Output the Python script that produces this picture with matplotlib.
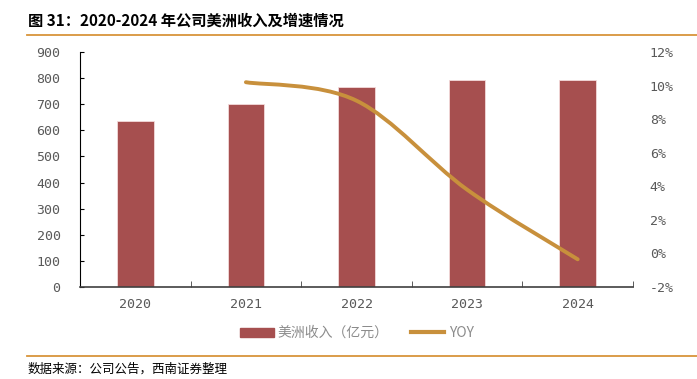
import matplotlib.pyplot as plt
import numpy as np
from matplotlib.path import Path
from matplotlib.patches import PathPatch
from matplotlib.lines import Line2D
from matplotlib.patches import Patch

plt.rcParams["font.family"] = ["Noto Sans CJK SC", "DejaVu Sans"]

years = ["2020", "2021", "2022", "2023", "2024"]
revenue = [636, 700, 765, 792, 792]          # 美洲收入（亿元）
yoy_years = ["2021", "2022", "2023", "2024"]
yoy = [10.2, 9.1, 3.8, -0.35]                # YOY (%)

BAR = "#A64F4F"
LINE = "#C8903C"
GRID_TXT = "#595959"

fig = plt.figure(figsize=(6.97, 3.79), dpi=100)
ax = fig.add_axes([80 / 697, 1 - 287 / 379, (633 - 80) / 697, (287 - 52) / 379])
ax2 = ax.twinx()

x = np.arange(len(years))
ax.bar(x, revenue, width=0.33, color=BAR, edgecolor="#F3DADA", linewidth=0.6, zorder=2)
ax.set_xlim(-0.5, len(years) - 0.5)
ax.set_ylim(0, 900)
ax.set_yticks(range(0, 901, 100))
ax.set_xticks(x)
ax.set_xticklabels(years)
ax.set_xticks(np.arange(0.5, len(years), 1), minor=True)
ax.tick_params(axis="x", which="major", length=0, pad=8)
ax.tick_params(axis="x", which="minor", direction="in", length=4, color="#404040")
ax.tick_params(axis="y", direction="in", length=3, pad=14, color="black")
for lab in ax.get_xticklabels() + ax.get_yticklabels():
    lab.set_family("DejaVu Sans Mono")
    lab.set_color(GRID_TXT)
    lab.set_fontsize(9.5)
for s in ["top", "right"]:
    ax.spines[s].set_visible(False)
ax.spines["left"].set_color("black")
ax.spines["bottom"].set_color("#404040")
ax.spines["bottom"].set_linewidth(1.2)

# YOY smooth curve (Catmull-Rom through the data points)
ax2.set_ylim(-2, 12)
ax2.set_yticks(range(-2, 13, 2))
ax2.set_yticklabels([f"{v}%" for v in range(-2, 13, 2)])
ax2.tick_params(axis="y", length=0, pad=12)
for lab in ax2.get_yticklabels():
    lab.set_family("DejaVu Sans Mono")
    lab.set_color(GRID_TXT)
    lab.set_fontsize(9.5)
for s in ["top", "right", "left", "bottom"]:
    ax2.spines[s].set_visible(False)

px = np.array([years.index(y) for y in yoy_years], dtype=float)
py = np.array(yoy)
verts = [(px[0], py[0])]
codes = [Path.MOVETO]
n = len(px)
for i in range(n - 1):
    p0 = (px[max(i - 1, 0)], py[max(i - 1, 0)])
    p1 = (px[i], py[i])
    p2 = (px[i + 1], py[i + 1])
    p3 = (px[min(i + 2, n - 1)], py[min(i + 2, n - 1)])
    c1 = (p1[0] + (p2[0] - p0[0]) / 6, p1[1] + (p2[1] - p0[1]) / 6)
    c2 = (p2[0] - (p3[0] - p1[0]) / 6, p2[1] - (p3[1] - p1[1]) / 6)
    verts += [c1, c2, p2]
    codes += [Path.CURVE4] * 3
ax2.add_patch(PathPatch(Path(verts, codes), facecolor="none", edgecolor=LINE,
                        linewidth=2.8, capstyle="round", zorder=3))

# legend
handles = [Patch(facecolor=BAR, edgecolor=BAR), Line2D([], [], color=LINE, lw=3)]
leg = fig.legend(handles, ["美洲收入（亿元）", "YOY"], loc="center",
                 bbox_to_anchor=(357 / 697, 1 - 333 / 379), ncol=2, frameon=False,
                 fontsize=10, handlelength=2.4, handleheight=0.6, columnspacing=1.6,
                 handletextpad=0.3)
for t in leg.get_texts():
    t.set_color("#8C8C8C")

# title, rules, source
fig.text(28 / 697, 1 - 21 / 379, "图 31：2020-2024 年公司美洲收入及增速情况",
         fontsize=11, fontweight="bold", va="center", ha="left")
fig.add_artist(Line2D([27 / 697, 1], [1 - 35 / 379] * 2, color="#D8943A", lw=1.3))
fig.add_artist(Line2D([27 / 697, 1], [1 - 356 / 379] * 2, color="#D8943A", lw=1.3))
fig.text(28 / 697, 1 - 369 / 379, "数据来源：公司公告，西南证券整理",
         fontsize=9, style="italic", va="center", ha="left")

fig.savefig("out.png", dpi=100)
